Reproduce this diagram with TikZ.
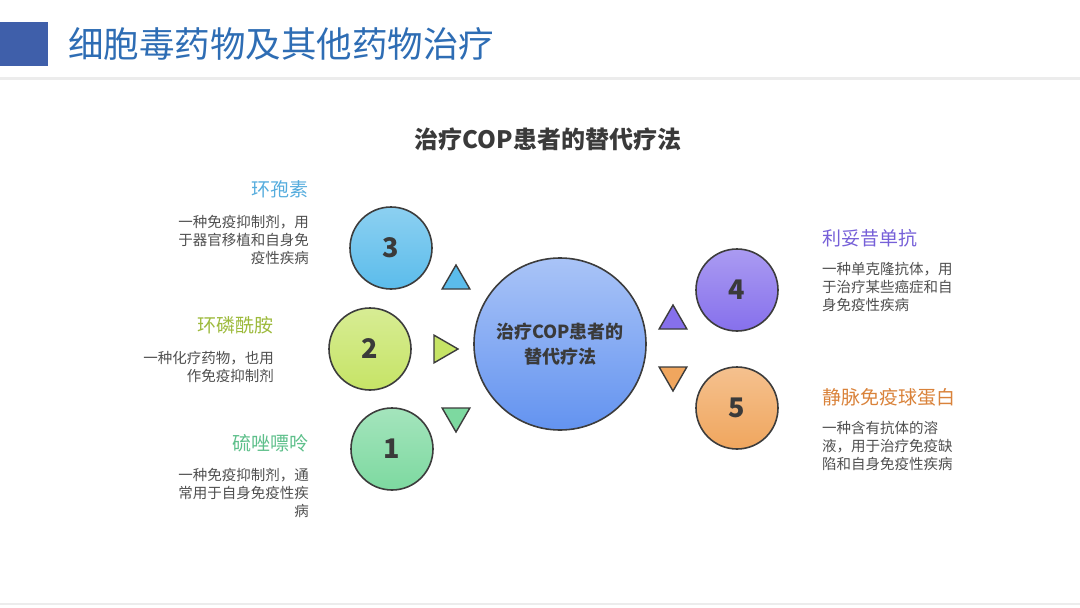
\documentclass[tikz,border=0pt]{standalone}
\usepackage{fontspec}
\setmainfont{Noto Sans CJK SC}
\usetikzlibrary{shapes.geometric}
\definecolor{Banner}{HTML}{3F5FAA}
\definecolor{TitleBlue}{HTML}{2E6DB4}
\definecolor{Rule}{HTML}{ECECEC}
\definecolor{Rim}{HTML}{3C3C3C}
\definecolor{Ink}{HTML}{3A3A3A}
\definecolor{Body}{HTML}{4F4F4F}
\definecolor{Sky}{HTML}{5BBCEB}
\definecolor{Lime}{HTML}{C6E466}
\definecolor{Mint}{HTML}{7DD9A0}
\definecolor{Core}{HTML}{6393F0}
\definecolor{Lilac}{HTML}{8670EC}
\definecolor{Apricot}{HTML}{F0A65E}
\definecolor{SkyText}{HTML}{55ACDD}
\definecolor{LimeText}{HTML}{9DBA3C}
\definecolor{MintText}{HTML}{5DBF8A}
\definecolor{LilacText}{HTML}{7660D8}
\definecolor{ApricotText}{HTML}{D9823A}

\begin{document}
\begin{tikzpicture}[x=1pt,y=-1pt,
    drugdot/.style={circle,draw=Rim,line width=1.6pt,minimum size=82pt,inner sep=0pt,
      font=\fontsize{27}{27}\selectfont\bfseries,text=Ink},
    pointer/.style={regular polygon,regular polygon sides=3,minimum size=32pt,inner sep=0pt,
      draw=Rim,line width=1.4pt},
    drugname/.style={inner sep=0pt,font=\fontsize{19}{19}\selectfont},
    drugnote/.style={inner sep=0pt,text=Body,font=\fontsize{14.5}{18}\selectfont}]
  \useasboundingbox (0,0) rectangle (1080,608);
  % header
  \fill[Banner] (0,22) rectangle (48,66);
  \node[anchor=west,inner sep=0pt,text=TitleBlue,font=\fontsize{35.5}{35.5}\selectfont] (title) at (68,44) {细胞毒药物及其他药物治疗};
  \draw[Rule,line width=3pt] (0,78) -- (1080,78);
  \draw[Rule,line width=2pt] (0,604) -- (1080,604);
  \node[inner sep=0pt,text=Ink,font=\fontsize{24}{24}\selectfont\bfseries] (heading) at (548,139) {治疗COP患者的替代疗法};

  % hub
  \node[circle,draw=Rim,line width=1.6pt,minimum size=172pt,inner sep=0pt,
    top color=Core!55!white,bottom color=Core,align=center,text=Ink,
    font=\fontsize{18}{25}\selectfont\bfseries] (hub) at (560,344) {治疗COP患者的\\替代疗法};

  % numbered circles and their pointers
  \foreach \n/\x/\y/\col/\tx/\ty/\rot in {
    3/391/248/Sky/456/281/0,
    2/370/349/Lime/442/349/270,
    1/392/449/Mint/456/416/180,
    4/737/290/Lilac/673/321/0,
    5/737/408/Apricot/673/375/180}
    {
      \node[drugdot,top color=\col!70!white,bottom color=\col] (dot\n) at (\x,\y) {\n};
      \node[pointer,fill=\col,shape border rotate=\rot] (tip\n) at (\tx,\ty) {};
    }

  % left labels
  \node[drugname,anchor=east,text=SkyText] (name3) at (309,189) {环孢素};
  \node[drugnote,anchor=north east,align=right] (note3) at (309,215) {一种免疫抑制剂，用\\于器官移植和自身免\\疫性疾病};
  \node[drugname,anchor=east,text=LimeText] (name2) at (274,325) {环磷酰胺};
  \node[drugnote,anchor=north east,align=right] (note2) at (274,351) {一种化疗药物，也用\\作免疫抑制剂};
  \node[drugname,anchor=east,text=MintText] (name1) at (309,443) {硫唑嘌呤};
  \node[drugnote,anchor=north east,align=right] (note1) at (309,468) {一种免疫抑制剂，通\\常用于自身免疫性疾\\病};

  % right labels
  \node[drugname,anchor=west,text=LilacText] (name4) at (822,238) {利妥昔单抗};
  \node[drugnote,anchor=north west,align=left] (note4) at (822,262) {一种单克隆抗体，用\\于治疗某些癌症和自\\身免疫性疾病};
  \node[drugname,anchor=west,text=ApricotText] (name5) at (822,397) {静脉免疫球蛋白};
  \node[drugnote,anchor=north west,align=left] (note5) at (822,421) {一种含有抗体的溶\\液，用于治疗免疫缺\\陷和自身免疫性疾病};
\end{tikzpicture}
\end{document}
